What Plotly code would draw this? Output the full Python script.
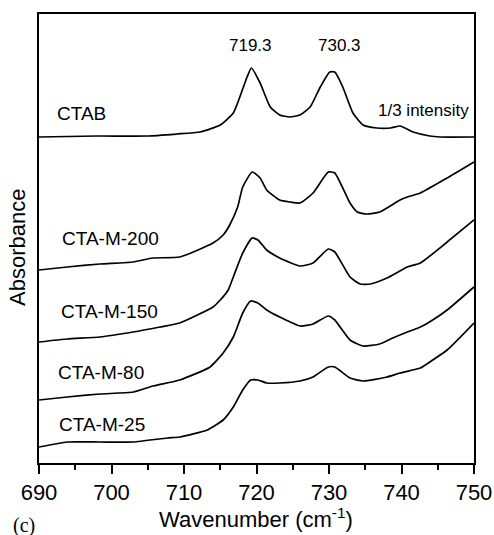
import plotly.graph_objects as go

# Wavenumber (cm-1) and absorbance (arbitrary units, stacked offsets)
ctab_x = [690, 698, 705, 709, 712.2, 715.0, 716.8, 717.7, 718.7, 719.3, 720.5, 721.9, 723.2, 724.6, 726.0,
          727.4, 728.8, 730.1, 730.8, 731.9, 733.3, 734.7, 736.6, 738.5, 739.8, 741.6, 743.9, 745.3, 750]
ctab_y = [326, 327, 327, 329, 331, 338, 350, 366, 386, 395, 380, 356, 348, 346, 348,
          356, 376, 391, 391, 376, 350, 338, 335, 335, 337, 331, 327, 326, 326]

m200_x = [690, 693.9, 698.4, 703.0, 705.7, 709.4, 714.0, 715.4, 716.3, 717.4, 718.1, 719.4, 720.5, 721.4, 723.2,
          724.6, 726.0, 727.8, 729.9, 730.8, 732.9, 733.9, 735.2, 737.0, 739.8, 740.8, 742.6, 746.3, 750]
m200_y = [193, 196, 199, 201, 205, 206, 220, 228, 238, 256, 276, 291, 285, 273, 263,
          261, 260, 270, 291, 290, 260, 251, 249, 251, 263, 266, 270, 285, 301]

m150_x = [690, 693.9, 698.4, 703.0, 706.7, 709.4, 714.0, 715.0, 716.1, 716.8, 718.1, 719.4, 720.2, 721.4, 723.2,
          726.0, 727.8, 729.9, 730.8, 732.9, 734.3, 735.7, 738.0, 740.8, 742.6, 746.3, 750]
m150_y = [121, 124, 126, 131, 136, 140, 156, 163, 173, 186, 210, 225, 223, 213, 205,
          197, 200, 214, 211, 186, 179, 179, 185, 196, 200, 221, 243]

m80_x = [690, 693.9, 698.4, 703.0, 705.7, 709.4, 713.6, 715.4, 716.8, 718.1, 719.2, 720.2, 721.4, 723.2,
         726.0, 727.8, 729.9, 730.8, 732.9, 734.7, 737.0, 738.8, 740.8, 742.6, 744.3, 746.3, 750]
m80_y = [63, 66, 69, 71, 77, 83, 96, 110, 126, 150, 162, 160, 153, 146,
         137, 139, 147, 143, 123, 117, 119, 125, 131, 136, 143, 153, 176]

m25_x = [690, 693.9, 698.4, 703.0, 707.7, 709.4, 713.2, 715.4, 716.8, 718.1, 719.2, 720.2, 721.4, 723.2,
         726.0, 727.8, 729.9, 730.8, 732.9, 734.7, 738.0, 739.8, 742.6, 744.3, 746.3, 750]
m25_y = [16, 21, 21, 21, 25, 26, 33, 43, 56, 73, 83, 83, 80, 80,
         82, 86, 96, 96, 85, 82, 86, 90, 95, 103, 113, 140]

series_names = ["CTAB", "CTA-M-200", "CTA-M-150", "CTA-M-80", "CTA-M-25"]
series_x = [ctab_x, m200_x, m150_x, m80_x, m25_x]
series_y = [ctab_y, m200_y, m150_y, m80_y, m25_y]
label_x = [695.9, 699.9, 699.7, 698.6, 698.7]
label_y = [350, 225, 152, 91, 39]

peak_labels = ["719.3", "730.3", "1/3 intensity"]
peak_x = [719.2, 731.4, 743.0]
peak_y = [418, 418, 353]

tick_vals = [690, 700, 710, 720, 730, 740, 750]

FONT = "Arial, Liberation Sans, Helvetica, sans-serif"
PLOT_W = 435.0
PLOT_H = 449.0

fig = go.Figure()
for name, xs, ys in zip(series_names, series_x, series_y):
    fig.add_trace(go.Scatter(x=xs, y=ys, mode="lines", name=name,
                             line=dict(color="black", width=1.7, shape="spline", smoothing=0.5),
                             showlegend=False, hoverinfo="skip"))

for name, lx, ly in zip(series_names, label_x, label_y):
    fig.add_annotation(x=lx, y=ly, text=name, showarrow=False, xref="x", yref="y",
                       xanchor="center", yanchor="middle",
                       font=dict(family=FONT, size=19, color="black"))
for t, px, py in zip(peak_labels, peak_x, peak_y):
    fig.add_annotation(x=px, y=py, text=t, showarrow=False, xref="x", yref="y",
                       xanchor="center", yanchor="middle",
                       font=dict(family=FONT, size=17, color="black"))

# axis titles and panel label (paper coordinates)
fig.add_annotation(x=(17 - 39) / PLOT_W, y=(463 - 248) / PLOT_H, xref="paper", yref="paper",
                   text="Absorbance", textangle=-90, showarrow=False,
                   xanchor="center", yanchor="middle",
                   font=dict(family=FONT, size=22, color="black"))
fig.add_annotation(x=(256 - 39) / PLOT_W, y=-(518 - 463) / PLOT_H, xref="paper", yref="paper",
                   text="Wavenumber (cm<sup>-1</sup>)", showarrow=False,
                   xanchor="center", yanchor="middle",
                   font=dict(family=FONT, size=22, color="black"))
fig.add_annotation(x=(24 - 39) / PLOT_W, y=-(525 - 463) / PLOT_H, xref="paper", yref="paper",
                   text="(c)", showarrow=False, xanchor="center", yanchor="middle",
                   font=dict(family="Liberation Serif, Times New Roman, serif", size=20, color="black"))

fig.update_layout(
    width=494, height=535,
    margin=dict(l=39, r=20, t=14, b=72, autoexpand=False),
    paper_bgcolor="white", plot_bgcolor="white",
    showlegend=False,
    font=dict(family=FONT, size=22, color="black"),
)
fig.update_xaxes(range=[690, 750], tickvals=tick_vals, ticks="outside", ticklen=9, tickwidth=1.5,
                 tickcolor="black", showline=True, linecolor="black", linewidth=2, mirror=True,
                 showgrid=False, zeroline=False, automargin=False,
                 tickfont=dict(family=FONT, size=22, color="black"),
                 minor=dict(dtick=5, tick0=690, ticks="outside", ticklen=5, tickwidth=1.5, tickcolor="black"))
fig.update_yaxes(range=[0, 449], showticklabels=False, ticks="", showline=True, linecolor="black",
                 linewidth=2, mirror=True, showgrid=False, zeroline=False, automargin=False)

fig.write_html("out.html")
